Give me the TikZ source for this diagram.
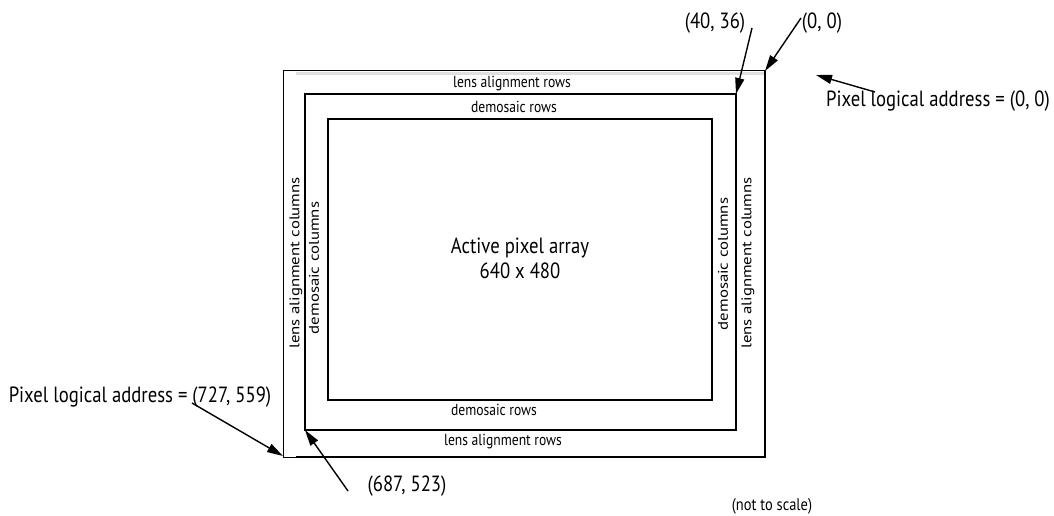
\documentclass[tikz,border=0pt]{standalone}
\usepackage{fontspec}
\setmainfont{PT Sans}
\newfontfamily\tallfont{PT Sans}[FakeStretch=0.85]
\newfontfamily\longfont{PT Sans}[FakeStretch=1.2]
\usetikzlibrary{arrows.meta,positioning}

\tikzset{
  rowlabel/.style={font=\tallfont\fontsize{16}{18}\selectfont, inner sep=0pt},
  collabel/.style={font=\longfont\fontsize{14}{16}\selectfont, inner sep=0pt, rotate=90},
  addrlabel/.style={font=\tallfont\fontsize{22}{25}\selectfont, inner sep=0pt},
  pointer/.style={line width=1.4pt, -{Triangle[length=16pt,width=9pt]}}
}

\begin{document}
\begin{tikzpicture}[x=1pt,y=-1pt]
  \useasboundingbox (0,0) rectangle (1054,516);

  % Frames
  \fill[black!12] (296,72) rectangle (765,75);
  \draw[line width=1pt] (283,71) rectangle (765,457);
  \draw[line width=1.6pt] (296,457) -- (765,457) -- (765,71);
  \draw[line width=2pt] (305,94) rectangle (736,430);
  \draw[line width=1.2pt] (328,119) rectangle (712,400);

  % Corners
  \coordinate (outerTR) at (765,71);
  \coordinate (outerBL) at (283,456);
  \coordinate (midTR) at (736,94);
  \coordinate (midBL) at (305,430);
  \coordinate (origin) at (816,75);

  % Row and column labels
  \node[rowlabel] (lensTop) at (512,84) {lens alignment rows};
  \node[rowlabel] (demTop) at (514,107) {demosaic rows};
  \node[rowlabel] (demBot) at (494,410) {demosaic rows};
  \node[rowlabel] (lensBot) at (503,442) {lens alignment rows};
  \node[collabel] (lensLeft) at (296,263) {lens alignment columns};
  \node[collabel] (demLeft) at (314,268) {demosaic columns};
  \node[collabel] (demRight) at (723,264) {demosaic columns};
  \node[collabel] (lensRight) at (748,263) {lens alignment columns};

  % Array
  \node[addrlabel, align=center] (active) at (520,258) {Active pixel array\\640 x 480};

  % Addresses
  \node[addrlabel] (pla00) at (938,101) {Pixel logical address = (0, 0)};
  \node[addrlabel] (pla727) at (140,397) {Pixel logical address = (727, 559)};
  \node[addrlabel] (l4036) at (715,23) {(40, 36)};
  \node[addrlabel] (l00) at (822,23) {(0, 0)};
  \node[addrlabel] (l687) at (407,486) {(687, 523)};
  \node[font=\tallfont\fontsize{17}{19}\selectfont, inner sep=0pt] (note) at (772,506) {(not to scale)};

  % Pointers
  \draw[pointer] ([xshift=-63pt,yshift=9pt]pla00.center) -- (origin);
  \draw[pointer] ([xshift=52pt,yshift=-6pt]pla727.center) -- (outerBL);
  \draw[pointer] ([xshift=37pt,yshift=-5pt]l4036.center) -- (midTR);
  \draw[pointer] ([xshift=-21pt,yshift=5pt]l00.center) -- (outerTR);
  \draw[pointer] ([xshift=-59pt,yshift=-5pt]l687.center) -- (midBL);
\end{tikzpicture}
\end{document}
